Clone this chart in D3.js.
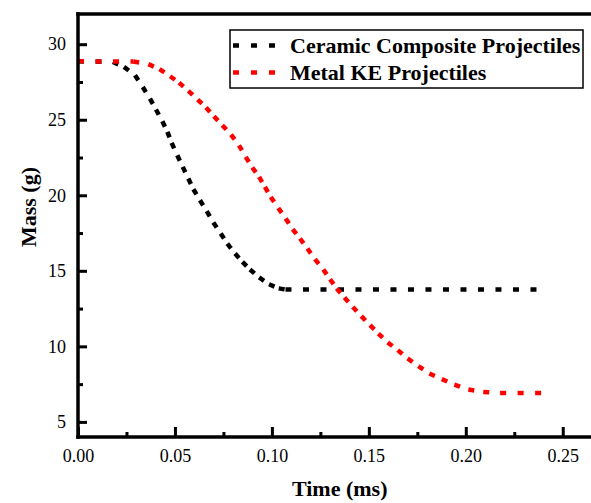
<!DOCTYPE html>
<html>
<head>
<meta charset="utf-8">
<script src="https://cdn.jsdelivr.net/npm/d3@7"></script>
<style>
  html, body { margin: 0; padding: 0; background: #fff; }
  svg { display: block; }
  text { font-family: "Liberation Serif", "Times New Roman", serif; fill: #000; }
</style>
</head>
<body>
<svg id="chart" width="591" height="503"></svg>
<script>
// Mass loss over time for the two projectile types
const ceramicTime = [0, 0.018, 0.0237, 0.0294, 0.0334, 0.0371, 0.0402, 0.0435, 0.0461, 0.0483,
  0.0512, 0.054, 0.0569, 0.0595, 0.0629, 0.0664, 0.0698, 0.0736, 0.077, 0.081, 0.0848,
  0.0887, 0.0934, 0.0985, 0.1035, 0.107, 0.24];
const ceramicMass = [28.87, 28.83, 28.5, 27.95, 27.17, 26.4, 25.68, 24.9, 24.2, 23.47,
  22.65, 21.88, 21.11, 20.4, 19.67, 18.95, 18.2, 17.47, 16.8, 16.14, 15.59,
  15.09, 14.56, 14.11, 13.84, 13.76, 13.76];

const metalTime = [0, 0.0285, 0.0363, 0.042, 0.0475, 0.0521, 0.0569, 0.0617, 0.066, 0.0701,
  0.0744, 0.0789, 0.083, 0.0865, 0.0899, 0.0934, 0.0964, 0.0994, 0.1033, 0.1071, 0.1107,
  0.1145, 0.1183, 0.1222, 0.1265, 0.13, 0.1334, 0.1374, 0.1417, 0.1461, 0.1506, 0.1549,
  0.1597, 0.1649, 0.17, 0.1755, 0.1812, 0.1876, 0.1941, 0.2013, 0.209, 0.2177, 0.24];
const metalMass = [28.87, 28.85, 28.68, 28.35, 27.88, 27.46, 26.91, 26.34, 25.81, 25.23,
  24.64, 24.02, 23.31, 22.54, 21.84, 21.22, 20.55, 19.89, 19.16, 18.46, 17.75,
  17.14, 16.48, 15.77, 15.09, 14.44, 13.83, 13.23, 12.61, 12.0, 11.4, 10.85,
  10.26, 9.75, 9.2, 8.69, 8.2, 7.83, 7.47, 7.14, 6.98, 6.92, 6.92];

const seriesNames = ["Ceramic Composite Projectiles", "Metal KE Projectiles"];
const seriesColors = ["#000000", "#ff0000"];

const xMajorTicks = [0, 0.05, 0.10, 0.15, 0.20, 0.25];
const xMinorTicks = [0.025, 0.075, 0.125, 0.175, 0.225];
const yMajorTicks = [5, 10, 15, 20, 25, 30];
const yMinorTicks = [7.5, 12.5, 17.5, 22.5, 27.5];

const xTitle = "Time (ms)";
const yTitle = "Mass (g)";

// Layout
const plotLeft = 78, plotTop = 14, plotBottom = 437;
const x = d3.scaleLinear().domain([0, 0.27]).range([plotLeft, plotLeft + 0.27 * 1939]);
const y = d3.scaleLinear().domain([4, 32]).range([plotBottom, plotTop]);

const svg = d3.select("#chart");

// Data series, drawn as dotted lines (pattern restarts at every data point)
const series = [
  { t: ceramicTime, m: ceramicMass, color: seriesColors[0] },
  { t: metalTime, m: metalMass, color: seriesColors[1] }
];
const line = d3.line().x(d => x(d[0])).y(d => y(d[1]));

series.forEach(s => {
  const pts = s.t.map((t, i) => [t, s.m[i]]);
  svg.append("g")
    .selectAll("path")
    .data(d3.pairs(pts))
    .join("path")
    .attr("d", d => line(d))
    .attr("fill", "none")
    .attr("stroke", s.color)
    .attr("stroke-width", 4.5)
    .attr("stroke-dasharray", "6 11.5");
});

// Y axis ticks (inward) and labels
svg.append("g").attr("transform", `translate(${plotLeft},0)`)
  .call(d3.axisLeft(y).tickValues(yMajorTicks).tickSize(-9).tickPadding(12).tickFormat(d3.format("d")));
svg.append("g").attr("transform", `translate(${plotLeft},0)`)
  .call(d3.axisLeft(y).tickValues(yMinorTicks).tickSize(-5).tickFormat(""));

// X axis ticks (inward) and labels
svg.append("g").attr("transform", `translate(0,${plotBottom})`)
  .call(d3.axisBottom(x).tickValues(xMajorTicks).tickSize(-10).tickPadding(12).tickFormat(d3.format(".2f")));
svg.append("g").attr("transform", `translate(0,${plotBottom})`)
  .call(d3.axisBottom(x).tickValues(xMinorTicks).tickSize(-5).tickFormat(""));

svg.selectAll(".domain").remove();
svg.selectAll(".tick line").attr("stroke", "#000").attr("stroke-width", 3);
svg.selectAll(".tick text")
  .attr("font-family", "Liberation Serif, Times New Roman, serif")
  .attr("font-size", 18)
  .attr("fill", "#000");

// Frame
const frame = svg.append("g").attr("stroke", "#000").attr("stroke-width", 3.5).attr("stroke-linecap", "square");
frame.append("line").attr("x1", plotLeft).attr("x2", x.range()[1]).attr("y1", plotTop).attr("y2", plotTop);
frame.append("line").attr("x1", plotLeft).attr("x2", x.range()[1]).attr("y1", plotBottom).attr("y2", plotBottom);
frame.append("line").attr("x1", plotLeft).attr("x2", plotLeft).attr("y1", plotTop).attr("y2", plotBottom);

// Axis titles
svg.append("text")
  .attr("x", (x.range()[0] + x.range()[1]) / 2)
  .attr("y", 496)
  .attr("text-anchor", "middle")
  .attr("font-size", 22)
  .attr("font-weight", "bold")
  .text(xTitle);

svg.append("text")
  .attr("transform", "translate(36,207) rotate(-90)")
  .attr("text-anchor", "middle")
  .attr("font-size", 22)
  .attr("font-weight", "bold")
  .text(yTitle);

// Legend
const legend = svg.append("g");
legend.append("rect")
  .attr("x", 230).attr("y", 30).attr("width", 353).attr("height", 58)
  .attr("fill", "#fff").attr("stroke", "#000").attr("stroke-width", 1.5);

seriesNames.forEach((name, i) => {
  const cy = 45.5 + i * 27;
  legend.append("line")
    .attr("x1", 233).attr("x2", 277).attr("y1", cy).attr("y2", cy)
    .attr("stroke", seriesColors[i]).attr("stroke-width", 4.5)
    .attr("stroke-dasharray", "6 12");
  legend.append("text")
    .attr("x", 290).attr("y", 53 + i * 27)
    .attr("font-size", 22)
    .attr("font-weight", "bold")
    .text(name);
});
</script>
</body>
</html>
